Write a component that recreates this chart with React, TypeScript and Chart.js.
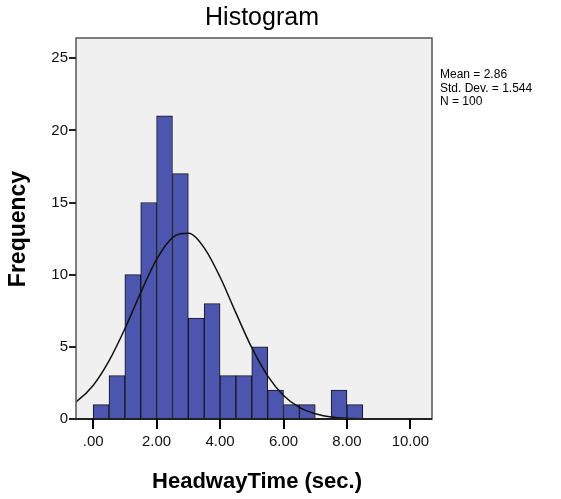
import React, { useEffect, useRef } from "react";
import { Chart, registerables } from "chart.js";

Chart.register(...registerables);

// Histogram bins (bin width 0.5) — centers and counts
const binCenters = [0.25, 0.75, 1.25, 1.75, 2.25, 2.75, 3.25, 3.75, 4.25, 4.75, 5.25, 5.75, 6.25, 6.75, 7.25, 7.75, 8.25];
const binCounts = [1, 3, 10, 15, 21, 17, 7, 8, 3, 3, 5, 2, 1, 1, 0, 2, 1];

// Normal curve
const curveX = [-1, -0.5, 0, 0.5, 1, 1.5, 2, 2.5, 3, 3.5, 4, 4.5, 5, 5.5, 6, 6.5, 7, 7.5, 8, 8.5, 9, 9.5, 10, 10.5, 11];
const curveY = [0.6, 1.25, 2.32, 4.02, 6.25, 8.76, 11.06, 12.57, 12.87, 11.86, 9.84, 7.35, 4.94, 2.99, 1.63, 0.8, 0.36, 0.14, 0.05, 0.016, 0.004, 0, 0, 0, 0];

const xTicks = [0, 2, 4, 6, 8, 10];
const yTicks = [0, 5, 10, 15, 20, 25];
const statsLines = ["Mean = 2.86", "Std. Dev. = 1.544", "N = 100"];
const titleText = "Histogram";
const xTitle = "HeadwayTime (sec.)";
const yTitle = "Frequency";
const X_MIN = -0.54;
const X_MAX = 10.68;

const FONT = "'Liberation Sans', Arial, sans-serif";

export default function App() {
  const ref = useRef<HTMLCanvasElement | null>(null);

  useEffect(() => {
    document.body.style.margin = "0";
    const canvas = ref.current!;
    const framePlugin = {
      id: "frame",
      beforeDatasetsDraw(chart: any) {
        const { ctx, chartArea: a } = chart;
        ctx.save();
        ctx.fillStyle = "#f0f0f0";
        ctx.fillRect(a.left, a.top, a.right - a.left, a.bottom - a.top);
        ctx.restore();
      },
      afterDraw(chart: any) {
        const { ctx, chartArea: a } = chart;
        const ys = chart.scales.y;
        ctx.save();
        ctx.strokeStyle = "#555555";
        ctx.lineWidth = 1.5;
        ctx.strokeRect(a.left, a.top, a.right - a.left, a.bottom - a.top);
        ctx.fillStyle = "#222";
        ctx.fillRect(a.left, a.bottom - 1, a.right - a.left, 2);
        for (let i = 0; i < yTicks.length; i++) {
          const py = Math.round(ys.getPixelForValue(yTicks[i]));
          ctx.fillRect(a.left - 7, py - 1, 7, 2);
        }

        ctx.fillStyle = "#000";
        ctx.textAlign = "center";
        ctx.textBaseline = "middle";
        ctx.font = `25px ${FONT}`;
        ctx.fillText(titleText, 262, 18);
        ctx.font = `bold 22px ${FONT}`;
        ctx.fillText(xTitle, 257, 482);
        ctx.save();
        ctx.translate(19, 229);
        ctx.rotate(-Math.PI / 2);
        ctx.font = `bold 23px ${FONT}`;
        ctx.fillText(yTitle, 0, 0);
        ctx.restore();

        ctx.textAlign = "left";
        ctx.font = `12px ${FONT}`;
        statsLines.forEach((s, i) => ctx.fillText(s, 440, 75 + i * 13.5));

        ctx.fillStyle = "#000";
        const bottom = Math.round(a.bottom);
        for (let i = 0; i < xTicks.length; i++) {
          const px = Math.round(a.left + ((xTicks[i] - X_MIN) / (X_MAX - X_MIN)) * (a.right - a.left));
          ctx.fillRect(px - 1, bottom, 2, 10);
        }
        ctx.restore();
      },
    };

    const chart = new Chart(canvas, {
      type: "bar",
      data: {
        datasets: [
          {
            type: "line",
            data: curveX.map((x, i) => ({ x, y: curveY[i] })),
            borderColor: "#111",
            borderWidth: 1.5,
            pointRadius: 0,
            cubicInterpolationMode: "monotone",
            fill: false,
            order: 0,
          } as any,
          {
            type: "bar",
            data: binCenters.map((x, i) => ({ x, y: binCounts[i] === 0 ? null : binCounts[i] })),
            backgroundColor: "#4c56ae",
            borderColor: "#15151f",
            borderWidth: 1,
            barPercentage: 1,
            categoryPercentage: 1,
            order: 1,
          } as any,
        ],
      },
      options: {
        animation: false,
        responsive: false,
        layout: { padding: { left: 0, top: 38, right: 129, bottom: 0 } },
        plugins: { legend: { display: false }, tooltip: { enabled: false } },
        scales: {
          x: {
            type: "linear",
            min: X_MIN,
            max: X_MAX,
            offset: false,
            afterBuildTicks: (s: any) => {
              s.ticks = xTicks.map((v) => ({ value: v }));
            },
            afterFit: (s: any) => {
              s.height = 80;
            },
            grid: { offset: false, drawOnChartArea: false, tickLength: 10, color: "rgba(0,0,0,0)" },
            border: { display: false },
            ticks: {
              color: "#111",
              font: { family: FONT, size: 15 },
              padding: 4,
              maxRotation: 0,
              callback: (v: any) => (v === 0 ? ".00" : Number(v).toFixed(2)),
            },
          },
          y: {
            min: 0,
            max: 26.4,
            afterBuildTicks: (s: any) => {
              s.ticks = yTicks.map((v) => ({ value: v }));
            },
            afterFit: (s: any) => {
              s.width = 76;
            },
            grid: { drawOnChartArea: false, tickLength: 7, color: "rgba(0,0,0,0)" },
            border: { display: false },
            ticks: { color: "#111", font: { family: FONT, size: 15 }, padding: 1 },
          },
        },
      },
      plugins: [framePlugin],
    } as any);
    return () => chart.destroy();
  }, []);

  return <canvas ref={ref} width={561} height={499} style={{ display: "block", width: 561, height: 499 }} />;
}
